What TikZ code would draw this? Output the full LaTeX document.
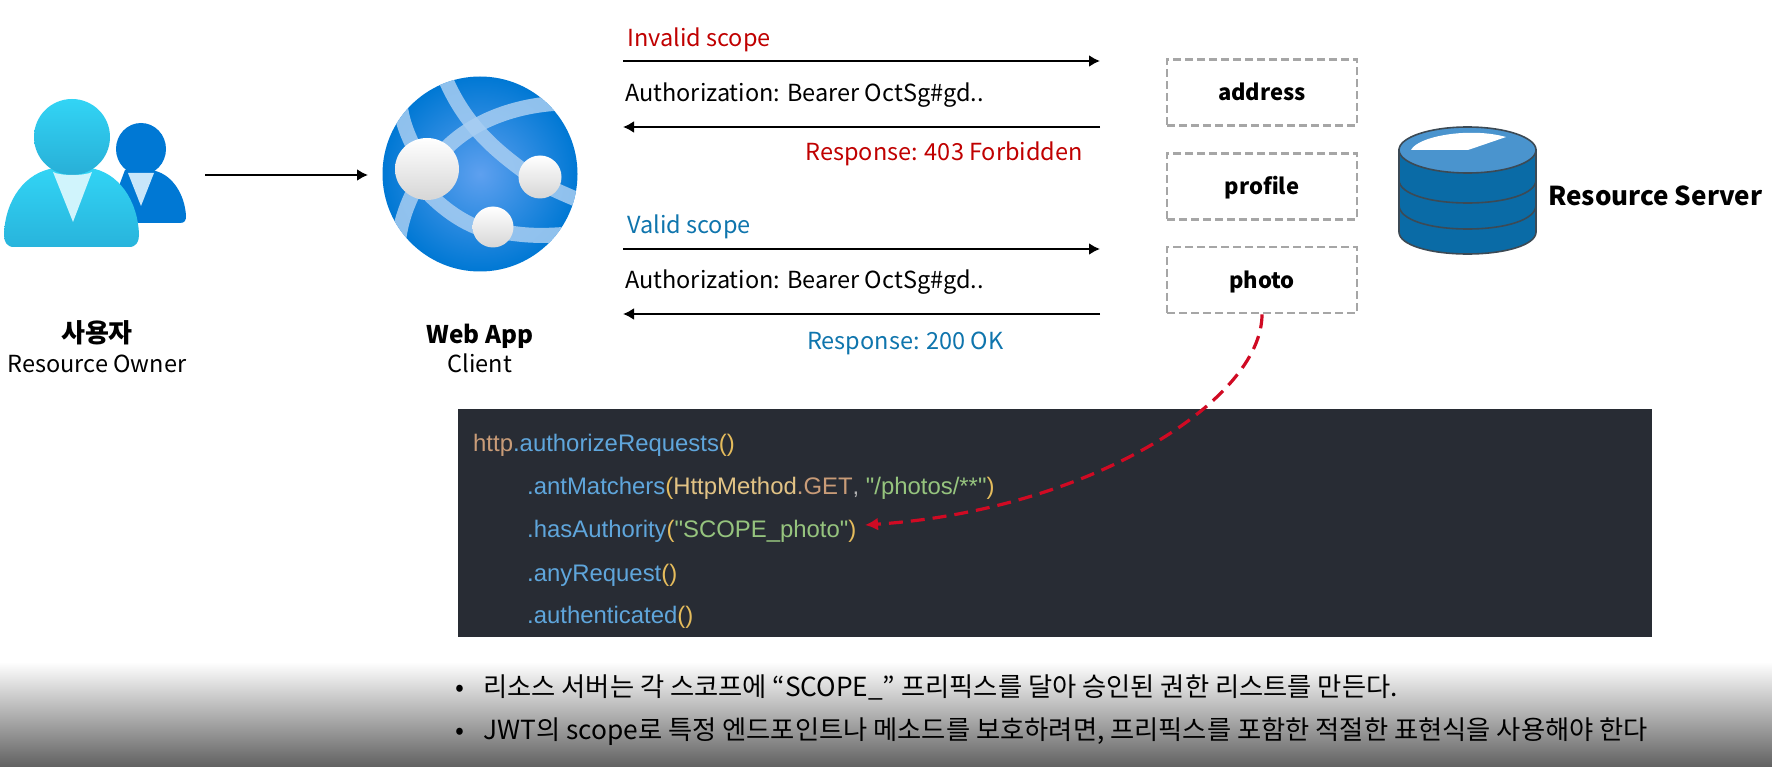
\documentclass[tikz,border=0pt]{standalone}
\usepackage{fontspec}
\setmainfont{Noto Sans CJK KR}
\newfontfamily\codefont{Liberation Sans}
\usetikzlibrary{arrows.meta,shapes.geometric}
\definecolor{cred}{HTML}{C00000}
\definecolor{cblue}{HTML}{0F75AD}
\definecolor{cbg}{HTML}{282C34}
\definecolor{ctan}{HTML}{C99C78}
\definecolor{cmeth}{HTML}{5FA6DC}
\definecolor{cpar}{HTML}{E5BC5C}
\definecolor{cclass}{HTML}{E2C385}
\definecolor{cstr}{HTML}{96C47E}
\definecolor{cband}{HTML}{A8CEF2}
\definecolor{cdb}{HTML}{0A6BA6}
\definecolor{cdbtop}{HTML}{4A94CE}
\definecolor{cdbline}{HTML}{3C4A55}
\tikzset{
  flow/.style={line width=2.8pt,-{Latex[length=11pt,width=12pt]},black},
  lbl/.style={inner sep=0pt,font=\fontsize{23.5}{27}\selectfont},
  lblb/.style={inner sep=0pt,font=\fontsize{24.3}{28}\selectfont\bfseries},
  scopebox/.style={draw=black!35,dashed,line width=2.8pt,dash pattern=on 8pt off 4pt,minimum width=190pt,minimum height=66pt,inner sep=0pt,text height=17pt,text depth=0pt,font=\fontsize{22}{26}\selectfont\bfseries},
  codeline/.style={inner sep=0pt,anchor=base west,font=\codefont\fontsize{23.9}{28}\selectfont},
  band/.style={draw=cband,line width=15pt,opacity=.85},
  bullet/.style={inner sep=0pt,anchor=base west,font=\fontsize{26.3}{30}\selectfont},
  knob/.style={top color=white,middle color=black!2,bottom color=black!16}
}
\begin{document}
\begin{tikzpicture}[x=1pt,y=-1pt]
\useasboundingbox (0,0) rectangle (1772,767);
\fill[white] (0,0) rectangle (1772,767);
\shade[top color=white,bottom color=black!62] (0,662) rectangle (1772,767);

% small person
\fill[color={rgb,255:red,0;green,120;blue,212}] (120,223) -- (180,223) .. controls (185,223) and (186,220) .. (186,216) .. controls (185,195) and (172,172) .. (150,170) -- (125,170) -- (105,223) -- cycle;
\fill[color={rgb,255:red,0;green,120;blue,212}] (141,149) ellipse (25 and 26);
\fill[color={rgb,255:red,200;green,230;blue,250}] (128,173) -- (154,173) -- (141,206) -- cycle;
% big person
\shade[top color={rgb,255:red,50;green,212;blue,245},bottom color={rgb,255:red,40;green,180;blue,220}] (14,247) -- (129,247) .. controls (136,247) and (139,242) .. (139,235) .. controls (138,200) and (118,172) .. (90,168) -- (55,168) .. controls (25,172) and (5,200) .. (4,235) .. controls (4,242) and (7,247) .. (14,247) -- cycle;
\shade[top color={rgb,255:red,50;green,212;blue,245},bottom color={rgb,255:red,40;green,175;blue,215}] (72,137) ellipse (38 and 38);
\fill[color={rgb,255:red,208;green,244;blue,252}] (53,172) .. controls (60,176) and (85,176) .. (92,172) -- (73,222) -- cycle;
\coordinate (userR) at (205,175);

% web app globe
\begin{scope}
\clip (480,174) circle (97.5);
\shade[inner color={rgb,255:red,94;green,160;blue,239},outer color={rgb,255:red,0;green,120;blue,212}] (480,174) circle (97.5);
\draw[band] (445,78) .. controls (465,125) and (495,150) .. (525,172) .. controls (545,187) and (560,192) .. (585,203);
\draw[band] (562,103) .. controls (510,105) and (465,125) .. (440,155);
\draw[band] (400,105) .. controls (403,125) and (408,135) .. (415,150);
\draw[band] (412,195) .. controls (405,210) and (400,225) .. (398,245);
\draw[band] (430,195) .. controls (450,215) and (480,235) .. (510,233) .. controls (530,236) and (545,236) .. (570,234);
\end{scope}
\shade[knob] (427,169) ellipse (32 and 31);
\shade[knob] (540,177) ellipse (21.5 and 21.5);
\shade[knob] (493,227) ellipse (20.5 and 20.5);
\coordinate (appL) at (368,175);
\draw[flow] (userR) -- (appL);

\node[inner sep=0pt,font=\fontsize{26}{30}\selectfont\bfseries] (ownerK) at (97,333) {사용자};
\node[lbl] (ownerE) at (97,364) {Resource Owner};
\node[lblb] (appT) at (480,336) {Web App};
\node[lbl] (appC) at (480,363) {Client};

% requests
\coordinate (a1L) at (623,61); \coordinate (a1R) at (1100,61);
\coordinate (a2L) at (623,127); \coordinate (a2R) at (1100,127);
\coordinate (a3L) at (623,249); \coordinate (a3R) at (1100,249);
\coordinate (a4L) at (623,314); \coordinate (a4R) at (1100,314);
\draw[flow] (a1L) -- (a1R);
\draw[flow] (a2R) -- (a2L);
\draw[flow] (a3L) -- (a3R);
\draw[flow] (a4R) -- (a4L);
\node[lbl,anchor=west,text=cred] (inv) at (627,40) {Invalid scope};
\node[lbl,anchor=west] (auth1) at (625,95) {Authorization: Bearer OctSg\#gd..};
\node[lbl,anchor=east,text=cred] (r403) at (1083,154) {Response: 403 Forbidden};
\node[lbl,anchor=west,text=cblue] (val) at (627,227) {Valid scope};
\node[lbl,anchor=west] (auth2) at (625,282) {Authorization: Bearer OctSg\#gd..};
\node[lbl,anchor=west,text=cblue] (r200) at (807,343) {Response: 200 OK};

% scopes
\node[scopebox] (addr) at (1262,92.5) {address};
\node[scopebox] (prof) at (1262,186.5) {profile};
\node[scopebox] (photo) at (1262,280) {photo};

% database
\draw[cdbline,line width=1.6pt,fill=cdb] (1399,150) -- (1399,232) .. controls (1399,245) and (1430,254) .. (1467.5,254) .. controls (1505,254) and (1536,245) .. (1536,232) -- (1536,150) -- cycle;
\draw[cdbline,line width=1.6pt] (1399,180) .. controls (1399,194) and (1430,203) .. (1467.5,203) .. controls (1505,203) and (1536,194) .. (1536,180);
\draw[cdbline,line width=1.6pt] (1399,205) .. controls (1399,220) and (1430,229) .. (1467.5,229) .. controls (1505,229) and (1536,220) .. (1536,205);
\draw[cdbline,line width=1.6pt,fill=cdbtop] (1467.5,150) ellipse (68.5 and 23);
\fill[white] (1411,150) .. controls (1418,136) and (1470,127) .. (1506,137) -- (1468,150) -- cycle;
\node[inner sep=0pt,anchor=west,font=\fontsize{26}{30}\selectfont\bfseries] (rs) at (1548,196) {Resource Server};

% code
\fill[cbg] (458,409) rectangle (1652,637);
\node[codeline] (c1) at (473,451) {\textcolor{ctan}{http}\textcolor{cmeth}{.authorizeRequests}\textcolor{cpar}{()}};
\node[codeline] (c2) at (527,494) {\textcolor{cmeth}{.antMatchers}\textcolor{cpar}{(}\textcolor{cclass}{HttpMethod}\textcolor{ctan}{.GET}\textcolor{white!70!black}{,} \textcolor{cstr}{"/photos/**"}\textcolor{cpar}{)}};
\node[codeline] (c3) at (527,537) {\textcolor{cmeth}{.hasAuthority}\textcolor{cpar}{(}\textcolor{cstr}{"SCOPE\_photo"}\textcolor{cpar}{)}};
\node[codeline] (c4) at (527,581) {\textcolor{cmeth}{.anyRequest}\textcolor{cpar}{()}};
\node[codeline] (c5) at (527,623) {\textcolor{cmeth}{.authenticated}\textcolor{cpar}{()}};
\coordinate (tip) at (865,525);
\draw[line width=3.2pt,color={rgb,255:red,208;green,10;blue,35},dash pattern=on 14pt off 8pt,-{Latex[length=13pt,width=13pt]}] (photo.south) .. controls (1262,400) and (1090,510) .. (tip);

% bullets
\node[bullet] (d1) at (455,696) {•};
\node[bullet] (b1) at (483,696) {리소스 서버는 각 스코프에 “SCOPE\_” 프리픽스를 달아 승인된 권한 리스트를 만든다.};
\node[bullet] (d2) at (455,739) {•};
\node[bullet] (b2) at (483,739) {JWT의 scope로 특정 엔드포인트나 메소드를 보호하려면, 프리픽스를 포함한 적절한 표현식을 사용해야 한다};
\end{tikzpicture}
\end{document}
